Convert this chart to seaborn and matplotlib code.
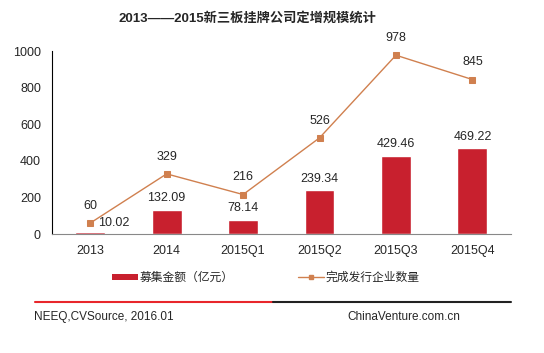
import matplotlib
matplotlib.use('Agg')
import matplotlib.pyplot as plt
import seaborn as sns
import pandas as pd
from matplotlib.lines import Line2D
from matplotlib.patches import Patch

# données
periods = ['2013', '2014', '2015Q1', '2015Q2', '2015Q3', '2015Q4']
amount = [10.02, 132.09, 78.14, 239.34, 429.46, 469.22]   # 募集金额（亿元）
companies = [60, 329, 216, 526, 978, 845]                 # 完成发行企业数量
amount_labels = ['10.02', '132.09', '78.14', '239.34', '429.46', '469.22']
y_ticks = [0, 200, 400, 600, 800, 1000]

sns.set_style('white')
plt.rcParams['font.family'] = ['Liberation Sans', 'Noto Sans CJK SC', 'DejaVu Sans']

bar_col = '#C8202E'
line_col = '#D0804F'

df = pd.DataFrame({'period': periods, 'amount': amount, 'companies': companies})

fig = plt.figure(figsize=(5.44, 3.53), dpi=100)
ax = fig.add_axes([0.0956, 0.337, 0.843, 0.518])

sns.barplot(data=df, x='period', y='amount', color=bar_col, width=0.39,
            saturation=1, ax=ax)
sns.pointplot(data=df, x='period', y='companies', color=line_col,
              markers='s', markersize=4, linewidth=1, ax=ax)

ax.set_ylim(0, 1000)
ax.set_xlim(-0.5, 5.5)
ax.set_yticks(y_ticks)
ax.tick_params(axis='both', length=0, labelsize=9, pad=8)
ax.set_xlabel('')
ax.set_ylabel('')
for s in ['top', 'right']:
    ax.spines[s].set_visible(False)
ax.spines['left'].set_color('black')
ax.spines['left'].set_linewidth(0.8)
ax.spines['bottom'].set_color('#888888')
ax.spines['bottom'].set_linewidth(0.8)

# étiquettes
for i, (a, lab) in enumerate(zip(amount, amount_labels)):
    if i == 0:
        ax.annotate(lab, (i, a), xytext=(17, 2), textcoords='offset points',
                    ha='center', va='bottom', fontsize=9)
    else:
        ax.annotate(lab, (i, a), xytext=(0, 4), textcoords='offset points',
                    ha='center', va='bottom', fontsize=9)
for i, c in enumerate(companies):
    ax.annotate(str(c), (i, c), xytext=(0, 8), textcoords='offset points',
                ha='center', va='bottom', fontsize=9)

fig.text(0.454, 0.948, '2013——2015新三板挂牌公司定增规模统计', ha='center', va='center',
         fontsize=9.5, fontweight='bold',
         family=['Liberation Sans', 'Noto Sans CJK SC'])

handles = [Patch(facecolor=bar_col, edgecolor='none'),
           Line2D([], [], color=line_col, marker='s', markersize=3, linewidth=1)]
fig.legend(handles, ['募集金额（亿元）', '完成发行企业数量'], loc='center',
           bbox_to_anchor=(0.489, 0.212), ncol=2, frameon=False, fontsize=8.5,
           handlelength=2.2, handleheight=0.5, columnspacing=5.5, handletextpad=0.1)

fig.add_artist(Line2D([0.064, 0.502], [0.1445, 0.1445], color='#E8262B', lw=1.5))
fig.add_artist(Line2D([0.502, 0.94], [0.1445, 0.1445], color='#222222', lw=1.5))
fig.text(0.062, 0.103, 'NEEQ,CVSource, 2016.01', fontsize=8.5, va='center')
fig.text(0.638, 0.103, 'ChinaVenture.com.cn', fontsize=8.5, va='center')

fig.savefig('out.png', dpi=100)
